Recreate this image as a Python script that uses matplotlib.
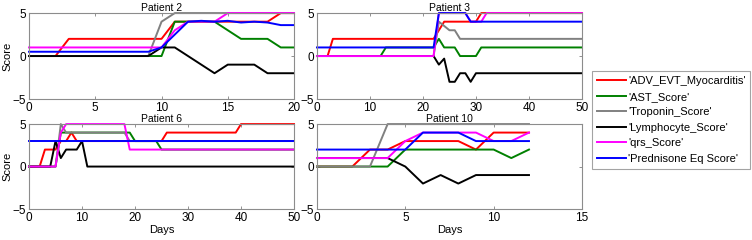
import numpy as np
import matplotlib.pyplot as plt

plt.rcParams['font.family'] = ['Liberation Sans', 'DejaVu Sans']

labels = ["'ADV_EVT_Myocarditis'", "'AST_Score'", "'Troponin_Score'",
          "'Lymphocyte_Score'", "'qrs_Score'", "'Prednisone Eq Score'"]
colors = ['#ff0000', '#008000', '#808080', '#000000', '#ff00ff', '#0000ff']

# Patient 2, days 0..20
p2_red   = [0, 0, 0, 2, 2, 2, 2, 2, 2, 2, 2, 4, 4, 4, 4, 4, 4, 4, 4, 5, 5]
p2_green = [0, 0, 0, 0, 0, 0, 0, 0, 0, 0, 0, 4, 4, 4, 4, 3, 2, 2, 2, 1, 1]
p2_gray  = [0, 0, 0, 0, 0, 0, 0, 0, 0, 0, 4, 5, 5, 5, 5, 5, 5, 5, 5, 5, 5]
p2_black = [0, 0, 0, 0, 0, 0, 0, 0, 0, 0, 1, 1, 0, -1, -2, -1, -1, -1, -2, -2, -2]
p2_mag   = [1, 1, 1, 1, 1, 1, 1, 1, 1, 1, 1, 3, 4, 4, 4, 5, 5, 5, 5, 5, 5]
p2_blue  = [0.5, 0.5, 0.5, 0.5, 0.5, 0.5, 0.5, 0.5, 0.5, 0.5, 1, 2.5, 4, 4.1, 4, 4.1, 3.9, 4, 3.9, 3.6, 3.6]

# Patient 3, days 0..50
p3_red   = [0]*3 + [2]*20 + [3] + [4]*7 + [5]*20
p3_green = [0]*13 + [1]*10 + [2] + [1]*3 + [0]*4 + [1]*20
p3_gray  = [0]*23 + [4, 3.5, 3, 3] + [2]*24
p3_black = [0]*23 + [-1, -0.3, -3, -3, -2, -2, -3] + [-2]*21
p3_mag   = [0]*23 + [5]*6 + [4]*3 + [5]*19
p3_blue  = [1]*23 + [5]*6 + [4]*22

# Patient 6, days 0..50
p6_red   = [0]*3 + [2]*3 + [3, 3, 4] + [3]*17 + [4]*14 + [5]*11
p6_green = [0]*6 + [4]*14 + [3]*5 + [2]*26
p6_gray  = [0]*6 + [5] + [4]*12 + [3]*32
p6_black = [0]*5 + [3, 1, 2, 2, 2, 3] + [0]*40
p6_mag   = [0]*6 + [4] + [5]*12 + [2]*32
p6_blue  = [3]*51

# Patient 10, days 0..12
p10_red   = [0, 0, 0, 2, 2, 3, 3, 3, 3, 2, 4, 4, 4]
p10_green = [0, 0, 0, 0, 0, 2, 2, 2, 2, 2, 2, 1, 2]
p10_gray  = [0, 0, 0, 0, 5, 5, 5, 5, 5, 5, 5, 5, 5]
p10_black = [1, 1, 1, 1, 1, 0, -2, -1, -2, -1, -1, -1, -1]
p10_mag   = [1, 1, 1, 1, 1, 3, 4, 4, 4, 4, 3, 3, 4]
p10_blue  = [2, 2, 2, 2, 2, 2, 4, 4, 4, 3, 3, 3, 3]

patients = [
    ("Patient 2", [p2_red, p2_green, p2_gray, p2_black, p2_mag, p2_blue], 20, [0, 5, 10, 15, 20]),
    ("Patient 3", [p3_red, p3_green, p3_gray, p3_black, p3_mag, p3_blue], 50, [0, 10, 20, 30, 40, 50]),
    ("Patient 6", [p6_red, p6_green, p6_gray, p6_black, p6_mag, p6_blue], 50, [0, 10, 20, 30, 40, 50]),
    ("Patient 10", [p10_red, p10_green, p10_gray, p10_black, p10_mag, p10_blue], 15, [0, 5, 10, 15]),
]

fig = plt.figure(figsize=(7.52, 2.4), dpi=100)
boxes = [[0.0386, 0.5875, 0.3524, 0.358],
         [0.4215, 0.5875, 0.3524, 0.358],
         [0.0386, 0.129, 0.3524, 0.354],
         [0.4215, 0.129, 0.3524, 0.354]]

handles = []
for k, (title, series, xmax, xt) in enumerate(patients):
    ax = fig.add_axes(boxes[k])
    for vals, c, lab in zip(series, colors, labels):
        days = np.arange(len(vals))
        h, = ax.plot(days, vals, color=c, lw=1.4, label=lab, clip_on=False)
        if k == 0:
            handles.append(h)
    ax.set_xlim(0, xmax)
    ax.set_ylim(-5, 5)
    ax.set_xticks(xt)
    ax.set_yticks([-5, 0, 5])
    ax.tick_params(direction='in', length=2.5, width=0.6, color='0.5',
                   top=True, right=True, labelsize=8.5, pad=2)
    for s in ax.spines.values():
        s.set_color('0.55')
        s.set_linewidth(0.8)
    ax.set_title(title, fontsize=7.5, pad=1.5)
    if k % 2 == 0:
        ax.set_ylabel('Score', fontsize=8, labelpad=0)
    if k >= 2:
        ax.set_xlabel('Days', fontsize=8, labelpad=1)

leg = fig.legend(handles=handles, labels=labels, loc='center',
                 bbox_to_anchor=(0.787, 0.304, 0.211, 0.392), fontsize=8,
                 frameon=True, fancybox=False, handlelength=2.6, handletextpad=0.2,
                 labelspacing=0.5, borderpad=0.45, borderaxespad=0)
leg.get_frame().set_edgecolor('0.55')
leg.get_frame().set_linewidth(0.8)

fig.savefig('out.png', dpi=100)
